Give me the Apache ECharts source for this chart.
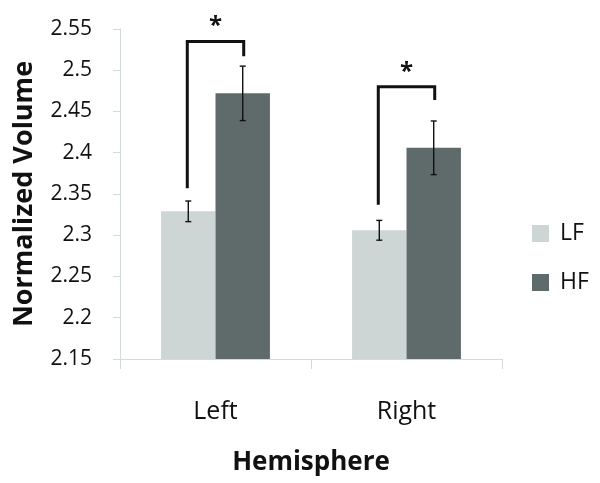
<!DOCTYPE html>
<html><head><meta charset="utf-8">
<script src="https://cdn.jsdelivr.net/npm/echarts@6/dist/echarts.min.js"></script>
<style>html,body{margin:0;padding:0;background:#fff}#c{width:600px;height:483px}</style>
</head><body><div id="c"></div>
<script>
const categories = ['Left', 'Right'];
const seriesNames = ['LF', 'HF'];
const lfValues = [2.329, 2.306];
const hfValues = [2.472, 2.406];
const lfErr = [0.0125, 0.012];
const hfErr = [0.033, 0.0325];
// significance brackets: [start of LF leg, bracket top, end of HF leg]
const sigLow = [2.357, 2.337];
const sigTop = [2.535, 2.480];
const sigHigh = [2.517, 2.464];
const sigLabel = ['*', '*'];
const yTicks = { min: 2.15, max: 2.55, interval: 0.05 };

const FONT = '"Open Sans", sans-serif';
const OFFSET_FRAC = 0.1425;

function errData(vals, errs) {
  return vals.map((v, i) => [i, v - errs[i], v + errs[i]]);
}
function errSeries(vals, errs, sign) {
  return {
    type: 'custom', z: 5, silent: true,
    data: errData(vals, errs),
    renderItem: function (params, api) {
      const cw = api.size([1, 0])[0];
      const x = api.coord([api.value(0), 0])[0] + sign * cw * OFFSET_FRAC;
      const lo = api.coord([api.value(0), api.value(1)])[1];
      const hi = api.coord([api.value(0), api.value(2)])[1];
      const c = 3;
      const st = { stroke: '#111', lineWidth: 1.4 };
      return { type: 'group', children: [
        { type: 'line', shape: { x1: x, y1: lo, x2: x, y2: hi }, style: st },
        { type: 'line', shape: { x1: x - c, y1: lo, x2: x + c, y2: lo }, style: st },
        { type: 'line', shape: { x1: x - c, y1: hi, x2: x + c, y2: hi }, style: st }
      ]};
    }
  };
}

const option = {
  animation: false,
  backgroundColor: '#fff',
  grid: { left: 120, right: 98, top: 29, bottom: 124 },
  legend: {
    orient: 'vertical', left: 527, top: 217,
    itemWidth: 17, itemHeight: 17, itemGap: 26,
    icon: 'rect',
    data: seriesNames,
    textStyle: { fontFamily: FONT, fontSize: 23, color: '#111', padding: [0, 0, 0, 6] }
  },
  xAxis: {
    type: 'category', data: categories,
    name: 'Hemisphere', nameLocation: 'middle', nameGap: 91,
    nameTextStyle: { fontFamily: FONT, fontSize: 26, fontWeight: 'bold', color: '#111' },
    axisLine: { lineStyle: { color: '#d3dadc', width: 1 } },
    axisTick: { show: true, length: 10, lineStyle: { color: '#d3dadc' } },
    axisLabel: { fontFamily: FONT, fontSize: 25, color: '#111', margin: 40 }
  },
  yAxis: {
    type: 'value', min: yTicks.min, max: yTicks.max, interval: yTicks.interval,
    name: 'Normalized Volume', nameLocation: 'middle', nameGap: 82,
    nameTextStyle: { fontFamily: FONT, fontSize: 27, fontWeight: 'bold', color: '#111' },
    axisLine: { show: true, lineStyle: { color: '#d3dadc', width: 1 } },
    axisTick: { show: true, length: 7, lineStyle: { color: '#d3dadc' } },
    splitLine: { show: false },
    axisLabel: { fontFamily: FONT, fontSize: 21, color: '#111', margin: 28,
      formatter: v => String(+v.toFixed(2)) }
  },
  series: [
    { name: 'LF', type: 'bar', data: lfValues, barGap: 0, barCategoryGap: '43%',
      itemStyle: { color: '#cdd6d5' } },
    { name: 'HF', type: 'bar', data: hfValues, barGap: 0, barCategoryGap: '43%',
      itemStyle: { color: '#5f6b6a' } },
    errSeries(lfValues, lfErr, -1),
    errSeries(hfValues, hfErr, 1),
    {
      type: 'custom', z: 6, silent: true,
      data: categories.map((c, i) => [i, sigLow[i], sigTop[i], sigHigh[i]]),
      renderItem: function (params, api) {
        const i = api.value(0);
        const cw = api.size([1, 0])[0];
        const cx = api.coord([i, 0])[0];
        const xl = cx - cw * OFFSET_FRAC - 1;
        const xr = cx + cw * OFFSET_FRAC + 1;
        const yl = api.coord([i, api.value(1)])[1];
        const yt = api.coord([i, api.value(2)])[1];
        const yr = api.coord([i, api.value(3)])[1];
        return { type: 'group', children: [
          { type: 'polyline', shape: { points: [[xl, yl], [xl, yt], [xr, yt], [xr, yr]] },
            style: { stroke: '#111', lineWidth: 3, fill: null } },
          { type: 'text', x: (xl + xr) / 2, y: yt - 3,
            style: { text: sigLabel[params.dataIndex], fontFamily: FONT, fontSize: 24,
              fontWeight: 'bold', fill: '#111', align: 'center', verticalAlign: 'bottom' } }
        ]};
      }
    }
  ]
};
const chart = echarts.init(document.getElementById('c'), null, { renderer: 'canvas' });
chart.setOption(option);
</script></body></html>
